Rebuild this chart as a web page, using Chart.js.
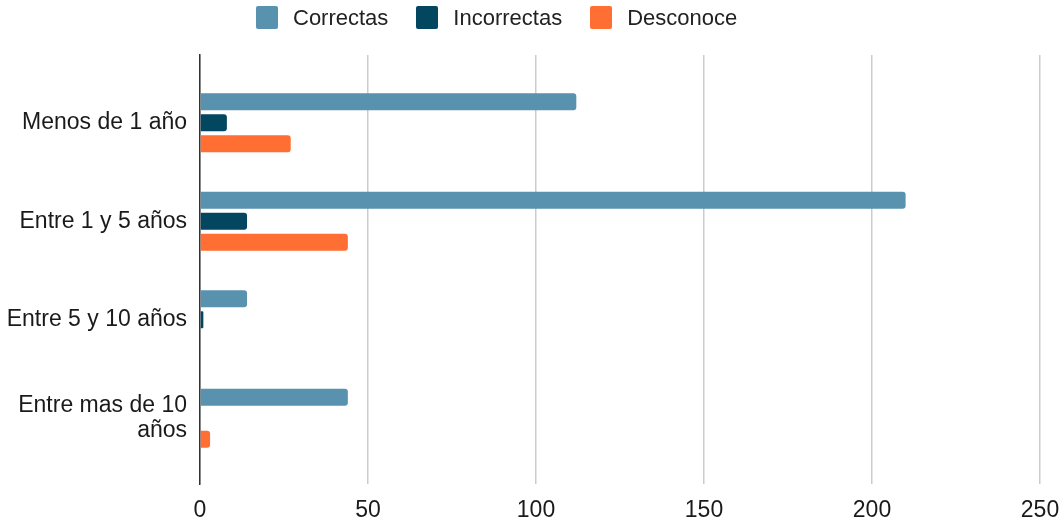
<!DOCTYPE html>
<html>
<head>
<meta charset="utf-8">
<script src="https://cdn.jsdelivr.net/npm/chart.js@4/dist/chart.umd.min.js"></script>
<style>
  html, body { margin: 0; padding: 0; background: #fff; }
  #wrap { position: relative; width: 1064px; height: 522px; }
  #chart { position: absolute; left: 0; top: 0; }
  #legend { position: absolute; left: 256px; top: 6px; display: flex; align-items: center;
            font-family: "Liberation Sans", Arial, sans-serif; font-size: 22px; color: #222; height: 23px; }
  .item { display: flex; align-items: center; margin-right: 28px; }
  .box { width: 22px; height: 23px; border-radius: 2px; margin-right: 15px; }
</style>
</head>
<body>
<div id="wrap">
  <canvas id="chart" width="1064" height="522"></canvas>
  <div id="legend"></div>
</div>
<script>
const categories = ["Menos de 1 año", "Entre 1 y 5 años", "Entre 5 y 10 años", ["Entre mas de 10", "años"]];
const seriesNames = ["Correctas", "Incorrectas", "Desconoce"];
const correctas = [112, 210, 14, 44];
const incorrectas = [8, 14, 1, 0];
const desconoce = [27, 44, 0, 3];
const xTicks = [0, 50, 100, 150, 200, 250];
const colors = ["#5892AF", "#03465F", "#FF6E33"];

const seriesValues = [correctas, incorrectas, desconoce];
const datasets = seriesNames.map((name, s) => ({
  label: name,
  data: seriesValues[s].map((v, i) => ({ x: v, y: i })),
  backgroundColor: colors[s],
  borderWidth: 0,
  borderRadius: 3,
  borderSkipped: 'start',
  categoryPercentage: 0.64,
  barPercentage: 0.81
}));

const font = { family: "'Liberation Sans', Arial, sans-serif", size: 23 };

const chart = new Chart(document.getElementById('chart'), {
  type: 'bar',
  data: { datasets },
  options: {
    indexAxis: 'y',
    responsive: false,
    animation: false,
    layout: { padding: { top: 55, right: 24, left: 0, bottom: 0 } },
    plugins: { legend: { display: false }, tooltip: { enabled: false } },
    scales: {
      x: {
        type: 'linear',
        min: xTicks[0],
        max: xTicks[xTicks.length - 1],
        afterBuildTicks: (scale) => { scale.ticks = xTicks.map(v => ({ value: v })); },
        afterFit: (scale) => { scale.height = 38; scale.paddingLeft = 0; scale.paddingRight = 0; },
        grid: { color: '#cccccc', lineWidth: 1.5, drawTicks: false },
        border: { display: false },
        ticks: { font, color: '#1a1a1a', padding: 13 }
      },
      y: {
        type: 'linear',
        reverse: true,
        offset: false,
        min: -0.687,
        max: 3.668,
        afterBuildTicks: (scale) => { scale.ticks = categories.map((c, i) => ({ value: i })); },
        afterFit: (scale) => { scale.width = 200; },
        grid: { display: false, drawTicks: false, offset: false },
        border: { display: true, color: '#333', width: 1.5 },
        ticks: {
          font: Object.assign({}, font, { lineHeight: 1.05 }),
          color: '#1a1a1a',
          padding: 13,
          callback: (v) => categories[v]
        }
      }
    }
  }
});

const legend = document.getElementById('legend');
chart.data.datasets.forEach(ds => {
  const item = document.createElement('div');
  item.className = 'item';
  const box = document.createElement('span');
  box.className = 'box';
  box.style.background = ds.backgroundColor;
  const txt = document.createElement('span');
  txt.textContent = ds.label;
  item.appendChild(box);
  item.appendChild(txt);
  legend.appendChild(item);
});
</script>
</body>
</html>
